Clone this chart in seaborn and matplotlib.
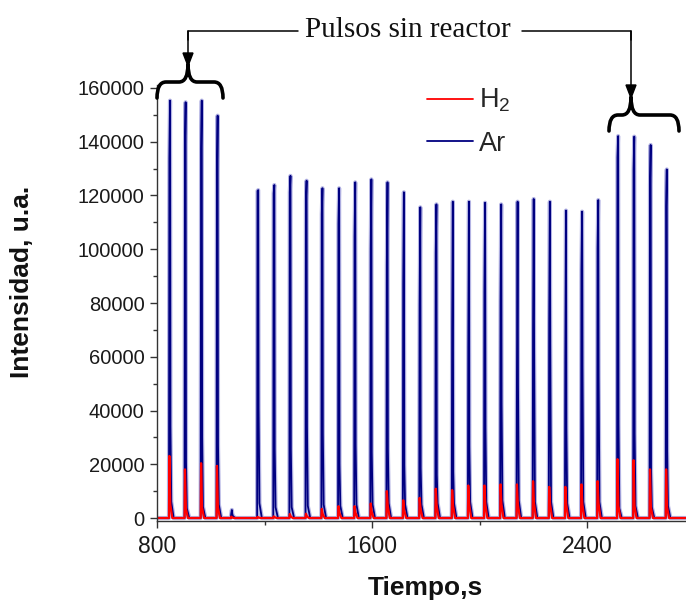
import matplotlib
matplotlib.use("Agg")
import matplotlib.pyplot as plt
import numpy as np
import pandas as pd
import seaborn as sns
from matplotlib.path import Path
from matplotlib.patches import PathPatch, Polygon
from matplotlib.lines import Line2D
from matplotlib.ticker import MultipleLocator

# Pulse injection times (s) and the sampled signal levels of each pulse
pulse_time = [846, 904, 964, 1023, 1076,
              1174, 1234, 1294, 1354, 1413, 1475, 1535, 1595, 1655, 1716, 1777,
              1837, 1898, 1958, 2018, 2078, 2139, 2199, 2259, 2319, 2379, 2439,
              2513, 2573, 2634, 2694]

# Ar: first sample on the rise, maximum, first sample on the fall, tail sample
ar_rise = [133800, 138800, 137600, 128000, 1500,
           121700, 120800, 121200, 118000, 113000, 109600, 104700, 100000, 94100, 87100, 79000,
           98500, 70600, 63700, 84200, 80500, 52600, 70600, 72700, 59400, 92500, 100400,
           134200, 129700, 123900, 116100]
ar_peak = [155300, 154700, 155300, 149700, 3000,
           122000, 123900, 127300, 125500, 122700, 122700, 124900, 126000, 124900, 121200, 115600,
           116700, 117700, 117700, 117300, 116700, 117700, 118700, 117700, 114400, 114000, 118300,
           142100, 141900, 138800, 129700]
ar_fall = [34000, 20700, 30000, 27200, 1500,
           40800, 25600, 25600, 34000, 31300, 20100, 27200, 24300, 25600, 19700, 18500,
           16000, 17200, 26800, 33600, 42700, 50000, 61900, 65000, 33400, 56300, 52600,
           35000, 31500, 17900, 25000]
ar_tail = [6100, 3600, 4200, 5000, 600,
           5500, 4000, 4000, 4500, 5000, 4500, 5000, 5000, 5500, 5000, 5000,
           5500, 5500, 6000, 6000, 6500, 6500, 6000, 6000, 5500, 6000, 6000,
           3600, 4500, 4000, 4500]

# H2: maximum and tail sample of each pulse
h2_peak = [23100, 18100, 20400, 19400, 500,
           400, 600, 1500, 1600, 3400, 4400, 4400, 5400, 10000, 6600, 7500,
           10900, 10400, 12100, 12100, 12500, 12500, 13700, 11600, 11600, 12500, 13700,
           21900, 21500, 18100, 18100]
h2_tail = [5000, 3500, 4000, 4000, 200,
           200, 300, 600, 700, 1500, 2000, 2000, 2500, 4500, 3000, 3500,
           4500, 4500, 5000, 5000, 5000, 5000, 5500, 5000, 5000, 5000, 5500,
           4500, 4500, 4000, 4000]

# acquisition timing of the samples around each injection (s)
ar_offsets = [-1.5, 0, 2.5, 4, 7, 16]
h2_offsets = [-1.5, 0, 3.5, 11]
t_start, t_end = 800, 2768

x_ticks = [800, 1600, 2400]


def build_series(samples, offsets):
    times, vals = [t_start], [0]
    for t0, pulse in zip(pulse_time, samples):
        for off, v in zip(offsets, pulse):
            times.append(t0 + off)
            vals.append(v)
    times.append(t_end)
    vals.append(0)
    return times, vals


ar_samples = [[0, a, b, c, d, 0] for a, b, c, d in zip(ar_rise, ar_peak, ar_fall, ar_tail)]
h2_samples = [[0, p, q, 0] for p, q in zip(h2_peak, h2_tail)]
t_ar, v_ar = build_series(ar_samples, ar_offsets)
t_h2, v_h2 = build_series(h2_samples, h2_offsets)
df_ar = pd.DataFrame({"Tiempo": t_ar, "Intensidad": v_ar})
df_h2 = pd.DataFrame({"Tiempo": t_h2, "Intensidad": v_h2})

sns.set_theme(style="white")
plt.rcParams["font.family"] = ["Liberation Sans", "DejaVu Sans"]
plt.rcParams["mathtext.default"] = "regular"

W, H = 686, 603
fig = plt.figure(figsize=(W / 100, H / 100), dpi=100)
ax = fig.add_axes([157 / W, (H - 520.7) / H, (W - 157) / W, 435.4 / H])

navy = "#000080"
sns.lineplot(data=df_ar, x="Tiempo", y="Intensidad", ax=ax, color="#b3b3e3",
             lw=3.0, sort=False, estimator=None)
sns.lineplot(data=df_ar, x="Tiempo", y="Intensidad", ax=ax, color=navy,
             lw=1.3, sort=False, estimator=None)
sns.lineplot(data=df_h2, x="Tiempo", y="Intensidad", ax=ax, color="#ff0000",
             lw=1.6, sort=False, estimator=None)

ax.set_xlim(t_start, t_end)
ax.set_ylim(-1000, 161000)
ax.set_xticks(x_ticks)
ax.xaxis.set_minor_locator(MultipleLocator(400))
ax.yaxis.set_major_locator(MultipleLocator(20000))
ax.yaxis.set_minor_locator(MultipleLocator(10000))
ax.set_xlabel("")
ax.set_ylabel("")
for side in ("top", "right"):
    ax.spines[side].set_visible(False)
for side in ("left", "bottom"):
    ax.spines[side].set_color("#333333")
    ax.spines[side].set_linewidth(1.0)
ax.tick_params(which="major", direction="out", length=5, width=1.0, color="#333333",
               labelcolor="#1a1a1a", pad=4, bottom=True, left=True)
ax.tick_params(which="minor", direction="out", length=3, width=1.0, color="#333333",
               bottom=True, left=True)
ax.tick_params(axis="y", which="major", labelsize=14.5)
ax.tick_params(axis="x", which="major", labelsize=16.5, pad=5)

fig.text(425 / W, 1 - 588 / H, "Tiempo,s", ha="center", va="center",
         fontsize=19, fontweight="bold", color="#111111")
fig.text(22 / W, 1 - 282 / H, "Intensidad, u.a.", ha="center", va="center",
         rotation=90, fontsize=19, fontweight="bold", color="#111111")

handles = [Line2D([], [], color="#ff0000", lw=1.3), Line2D([], [], color=navy, lw=1.3)]
fig.legend(handles, ["H$_2$", "Ar"], loc="upper left",
           bbox_to_anchor=(427 / W, 1 - 87 / H), frameon=False, fontsize=19.5,
           handlelength=1.7, handletextpad=0.22, labelspacing=0.6,
           borderpad=0, borderaxespad=0)

# annotation layer in pixel coordinates
ov = fig.add_axes([0, 0, 1, 1], facecolor="none")
ov.set_xlim(0, W)
ov.set_ylim(H, 0)
ov.axis("off")

ov.text(408, 30, "Pulsos sin reactor", ha="center", va="center",
        fontsize=21, family=["Liberation Serif", "DejaVu Serif"], color="#111111")


def brace(x0, x1, xc, y_tip, y_arm, y_end, r=9):
    verts = [(x0, y_end), (x0, y_arm), (x0 + r, y_arm),
             (xc - r, y_arm),
             (xc, y_arm), (xc, y_tip),
             (xc, y_arm), (xc + r, y_arm),
             (x1 - r, y_arm),
             (x1, y_arm), (x1, y_end)]
    codes = [Path.MOVETO, Path.CURVE3, Path.CURVE3,
             Path.LINETO,
             Path.CURVE3, Path.CURVE3,
             Path.CURVE3, Path.CURVE3,
             Path.LINETO,
             Path.CURVE3, Path.CURVE3]
    ov.add_patch(PathPatch(Path(verts, codes), fill=False, lw=2.6, color="black",
                           capstyle="round", joinstyle="round"))


def arrow_down(x, y_top, y_tip):
    ov.plot([x, x], [y_top, y_tip - 10], color="black", lw=1.1)
    ov.add_patch(Polygon([(x - 5, y_tip - 13), (x + 5, y_tip - 13), (x, y_tip)],
                         closed=True, color="black"))


ov.plot([298, 188, 188], [31, 31, 40], color="black", lw=1.1)
arrow_down(188, 31, 66)
brace(157, 223, 188, 64, 82, 98)

ov.plot([522, 631, 631], [31, 31, 40], color="black", lw=1.1)
arrow_down(631, 31, 98)
brace(609, 679, 631, 97, 115, 131)

fig.savefig("out.png", dpi=100)
